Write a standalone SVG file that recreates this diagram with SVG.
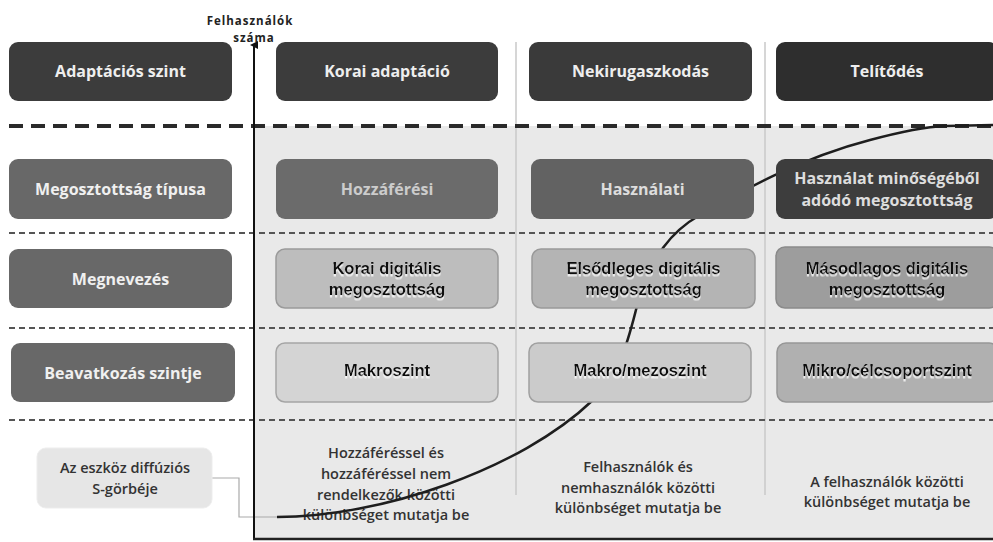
<svg xmlns="http://www.w3.org/2000/svg" width="993" height="542" viewBox="0 0 993 542">
<defs>
<style>
.hdr{font-family:"Open Sans","Liberation Sans",sans-serif;font-weight:700;font-size:16px;text-anchor:middle}
.ari{font-family:"Liberation Sans",Arial,sans-serif;font-weight:700;font-size:16.5px;text-anchor:middle;fill:#111}
.body{font-family:"Open Sans","Liberation Sans",sans-serif;font-weight:600;font-size:14.5px;text-anchor:middle;fill:#333}
.thin{stroke:#555;stroke-width:2;stroke-dasharray:6 4;fill:none}
.sep{stroke:#c8c8c8;stroke-width:1.5}
.ax{font-family:"Open Sans","Liberation Sans",sans-serif;font-weight:700;font-size:11.5px;letter-spacing:1px;text-anchor:middle;fill:#222}
</style>
<filter id="ghost" x="-5%" y="-20%" width="110%" height="160%">
<feDropShadow dx="0" dy="2.5" stdDeviation="0.6" flood-color="#ffffff" flood-opacity="0.75"/>
</filter>
<marker id="arr" markerWidth="8" markerHeight="8" refX="4" refY="4" orient="auto" markerUnits="userSpaceOnUse">
<path d="M0,8 L4,0 L8,8 Z" fill="#111"/>
</marker>
</defs>
<rect width="993" height="542" fill="#ffffff"/>
<rect x="254" y="126" width="739" height="413" fill="#e9e9e9"/>
<g id="grid">
<line class="sep" x1="516" y1="42" x2="516" y2="495"/>
<line class="sep" x1="765" y1="42" x2="765" y2="495"/>
<line x1="9" y1="126" x2="993" y2="126" stroke="#2a2a2a" stroke-width="4" stroke-dasharray="14 8"/>
<line class="thin" x1="9" y1="233" x2="993" y2="233"/>
<line class="thin" x1="9" y1="328" x2="993" y2="328"/>
<line class="thin" x1="9" y1="420" x2="993" y2="420"/>
</g>
<g id="desc1"><text class="body" x="386" y="458">Hozzáféréssel és</text><text class="body" x="386" y="479">hozzáféréssel nem</text><text class="body" x="386" y="500">rendelkezők közötti</text><text class="body" x="386" y="520">különbséget mutatja be</text></g>
<g id="desc2"><text class="body" x="638" y="472">Felhasználók és</text><text class="body" x="638" y="493">nemhasználók közötti</text><text class="body" x="638" y="513">különbséget mutatja be</text></g>
<g id="desc3"><text class="body" x="887" y="487">A felhasználók közötti</text><text class="body" x="887" y="507">különbséget mutatja be</text></g>
<g id="connectors">
<path d="M212,478 H239 V517 H277" fill="none" stroke="#aaaaaa" stroke-width="1.2"/>
<path d="M277,517 C380,517 520,470 593,400 C625,368 630,330 640,295 C652,258 670,232 700,215 C740,192 800,158 870,140 C900,132 922,127 945,126 L993,125" fill="none" stroke="#1e1e1e" stroke-width="2.5"/>
</g>
<g id="r1-label"><rect x="9" y="42" width="223" height="59" rx="9" fill="#3c3c3c"/><text class="hdr" x="120.5" y="77" fill="#eeeeee">Adaptációs szint</text></g>
<g id="r1-c1"><rect x="276" y="42" width="222" height="59" rx="9" fill="#3c3c3c"/><text class="hdr" x="387" y="77" fill="#eeeeee">Korai adaptáció</text></g>
<g id="r1-c2"><rect x="529" y="42" width="223" height="59" rx="9" fill="#3a3a3a"/><text class="hdr" x="640.5" y="77" fill="#eeeeee">Nekirugaszkodás</text></g>
<g id="r1-c3"><rect x="776" y="42" width="222" height="59" rx="9" fill="#2e2e2e"/><text class="hdr" x="887" y="77" fill="#eeeeee">Telítődés</text></g>
<g id="r2-label"><rect x="9" y="159" width="223" height="60" rx="9" fill="#686868"/><text class="hdr" x="120.5" y="195" fill="#f0f0f0">Megosztottság típusa</text></g>
<g id="r2-c1"><rect x="276" y="159" width="222" height="60" rx="9" fill="#6b6b6b"/><text class="hdr" x="387" y="195" fill="#cccccc" font-weight="400">Hozzáférési</text></g>
<g id="r2-c2"><rect x="531" y="159" width="223" height="60" rx="9" fill="#626262"/><text class="hdr" x="642.5" y="195" fill="#dddddd" font-weight="600">Használati</text></g>
<g id="r2-c3"><rect x="776" y="159" width="222" height="60" rx="9" fill="#3d3d3d"/><text class="hdr" x="887" y="184" fill="#dddddd" font-weight="600">Használat minőségéből</text><text class="hdr" x="887" y="206" fill="#dddddd" font-weight="600">adódó megosztottság</text></g>
<g id="r3-label"><rect x="9" y="249" width="223" height="59" rx="9" fill="#686868"/><text class="hdr" x="120.5" y="285" fill="#f0f0f0">Megnevezés</text></g>
<g id="r3-c1"><rect x="276" y="249" width="222" height="59" rx="9" fill="#bdbdbd" stroke="#9a9a9a" stroke-width="1.5"/><g filter="url(#ghost)"><text class="ari" x="387" y="274">Korai digitális</text><text class="ari" x="387" y="295">megosztottság</text></g></g>
<g id="r3-c2"><rect x="532" y="249" width="223" height="59" rx="9" fill="#b4b4b4" stroke="#999999" stroke-width="1.5"/><g filter="url(#ghost)"><text class="ari" x="643.5" y="274">Elsődleges digitális</text><text class="ari" x="643.5" y="295">megosztottság</text></g></g>
<g id="r3-c3"><rect x="776" y="247" width="222" height="61" rx="9" fill="#9d9d9d" stroke="#8a8a8a" stroke-width="1.5"/><g filter="url(#ghost)"><text class="ari" x="887" y="274">Másodlagos digitális</text><text class="ari" x="887" y="295">megosztottság</text></g></g>
<g id="r4-label"><rect x="11" y="343" width="224" height="59" rx="9" fill="#686868"/><text class="hdr" x="123" y="379" fill="#f0f0f0">Beavatkozás szintje</text></g>
<g id="r4-c1"><rect x="276" y="343" width="222" height="59" rx="9" fill="#d4d4d4" stroke="#a5a5a5" stroke-width="1.5"/><text class="ari" x="387" y="376" filter="url(#ghost)">Makroszint</text></g>
<g id="r4-c2"><rect x="529" y="343" width="222" height="59" rx="9" fill="#cbcbcb" stroke="#a0a0a0" stroke-width="1.5"/><text class="ari" x="640" y="376" filter="url(#ghost)">Makro/mezoszint</text></g>
<g id="r4-c3"><rect x="777" y="343" width="221" height="59" rx="9" fill="#b0b0b0" stroke="#969696" stroke-width="1.5"/><text class="ari" x="887" y="376" filter="url(#ghost)">Mikro/célcsoportszint</text></g>
<g id="scurve-label"><rect x="37" y="448" width="175" height="60" rx="9" fill="#e6e6e6" stroke="#ededed" stroke-width="1"/><text class="body" x="125" y="473">Az eszköz diffúziós</text><text class="body" x="125" y="494">S-görbéje</text></g>
<g id="axes">
<line x1="254" y1="539" x2="254" y2="45" stroke="#111" stroke-width="2" marker-end="url(#arr)"/>
<line x1="253" y1="539" x2="993" y2="539" stroke="#222" stroke-width="2.5"/>
<text class="ax" x="250" y="25">Felhasználók</text>
<text class="ax" x="254" y="42">száma</text>
</g>
</svg>
